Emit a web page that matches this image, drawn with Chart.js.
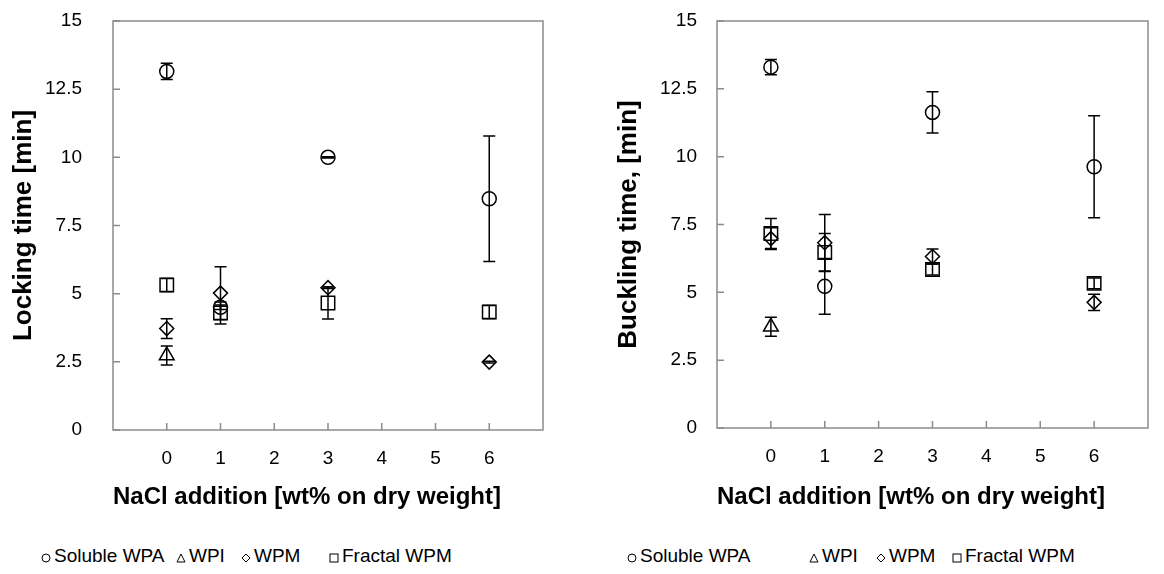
<!DOCTYPE html>
<html>
<head>
<meta charset="utf-8">
<title>Locking and buckling time vs NaCl addition</title>
<script src="https://cdn.jsdelivr.net/npm/chart.js@4.4.1/dist/chart.umd.min.js"></script>
<style>
  html, body { margin: 0; padding: 0; background: #fff; }
  body { width: 1164px; height: 574px; position: relative; overflow: hidden; font-family: Arial, "Liberation Sans", sans-serif; }
  .panel { position: absolute; top: 0; height: 520px; }
  #lockWrap { left: 0; width: 580px; }
  #buckWrap { left: 580px; width: 584px; }
  .legend-item { position: absolute; top: 545px; font-size: 19px; line-height: 22px; color: #000; white-space: nowrap; }
  .legend-item svg { vertical-align: -1px; margin-right: 3px; }
</style>
</head>
<body>
<div class="panel" id="lockWrap"><canvas id="lockChart" width="580" height="520"></canvas></div>
<div class="panel" id="buckWrap"><canvas id="buckChart" width="584" height="520"></canvas></div>
<div id="legends"></div>

<script>
// ========== Data ==========
const saltLevels = [0, 1, 3, 6];            // x positions of the measurements
const xTicks = [0, 1, 2, 3, 4, 5, 6];
const yTicks = [0, 2.5, 5, 7.5, 10, 12.5, 15];

const seriesNames = ['Soluble WPA', 'WPI', 'WPM', 'Fractal WPM'];

// Locking time [min]
const lockSoluble    = [13.15, 4.5, 10.0, 8.48];
const lockSolubleErr = [0.3, 0.08, 0.02, 2.3];
const lockWPI        = [2.73, null, null, null];
const lockWPIErr     = [0.35, 0, 0, 0];
const lockWPM        = [3.72, 5.02, 5.22, 2.49];
const lockWPMErr     = [0.36, 0.97, 0.03, 0.03];
const lockFractal    = [5.32, 4.29, 4.66, 4.33];
const lockFractalErr = [0.24, 0.4, 0.59, 0.24];

// Buckling time [min]
const buckSoluble    = [13.3, 5.22, 11.63, 9.63];
const buckSolubleErr = [0.28, 1.03, 0.76, 1.88];
const buckWPI        = [3.73, null, null, null];
const buckWPIErr     = [0.35, 0, 0, 0];
const buckWPM        = [6.98, 6.83, 6.32, 4.63];
const buckWPMErr     = [0.4, 1.04, 0.28, 0.3];
const buckFractal    = [7.17, 6.47, 5.84, 5.33];
const buckFractalErr = [0.55, 0.7, 0.2, 0.2];

// ========== Styling ==========
const FONT = 'Arial, "Liberation Sans", sans-serif';
const AXIS_GREY = '#8c8c8c';
const markers = [
  { style: 'circle',   radius: 7,
    svg: '<circle cx="5" cy="5" r="4" fill="none" stroke="#000" stroke-width="1"/>' },
  { style: 'triangle', radius: 8.5,
    svg: '<polygon points="5,1 9,9 1,9" fill="none" stroke="#000" stroke-width="1"/>' },
  { style: 'rectRot',  radius: 7,
    svg: '<polygon points="5,1 9,5 5,9 1,5" fill="none" stroke="#000" stroke-width="1"/>' },
  { style: 'rect',     radius: 9.5,
    svg: '<rect x="1" y="1" width="8" height="8" fill="none" stroke="#000" stroke-width="1"/>' }
];

// Plot box + inward tick marks like the original spreadsheet chart
const framePlugin = {
  id: 'frame',
  beforeDatasetsDraw(chart) {
    const { ctx, chartArea: a, scales: { x, y } } = chart;
    ctx.save();
    ctx.strokeStyle = AXIS_GREY;
    ctx.lineWidth = 1.5;
    ctx.strokeRect(a.left, a.top, a.right - a.left, a.bottom - a.top);
    ctx.beginPath();
    x.ticks.forEach(t => {
      const p = x.getPixelForValue(t.value);
      ctx.moveTo(p, a.bottom);
      ctx.lineTo(p, a.bottom - 7);
    });
    y.ticks.forEach(t => {
      const p = y.getPixelForValue(t.value);
      ctx.moveTo(a.left, p);
      ctx.lineTo(a.left + 7, p);
    });
    ctx.stroke();
    ctx.restore();
  }
};

// Vertical error bars with caps, read from dataset.errors
const errorBarPlugin = {
  id: 'errorBars',
  afterDatasetsDraw(chart) {
    const { ctx, scales: { x, y } } = chart;
    ctx.save();
    ctx.strokeStyle = '#000';
    ctx.lineWidth = 1.5;
    chart.data.datasets.forEach(ds => {
      ds.data.forEach((pt, i) => {
        const err = ds.errors[i];
        if (pt.y == null || !err) return;
        const px = x.getPixelForValue(pt.x);
        const top = y.getPixelForValue(pt.y + err);
        const bot = y.getPixelForValue(pt.y - err);
        ctx.beginPath();
        ctx.moveTo(px, top); ctx.lineTo(px, bot);
        ctx.moveTo(px - 6, top); ctx.lineTo(px + 6, top);
        ctx.moveTo(px - 6, bot); ctx.lineTo(px + 6, bot);
        ctx.stroke();
      });
    });
    ctx.restore();
  }
};

function makeDataset(name, idx, values, errors) {
  const m = markers[idx];
  return {
    label: name,
    data: saltLevels.map((x, i) => ({ x: x, y: values[i] })),
    errors: errors,
    showLine: false,
    pointStyle: m.style,
    pointRadius: m.radius,
    pointHoverRadius: m.radius,
    pointBorderWidth: 1.5,
    borderColor: '#000',
    backgroundColor: 'rgba(0,0,0,0)'
  };
}

function buildChart(canvasId, cfg) {
  const ctx = document.getElementById(canvasId);
  return new Chart(ctx, {
    type: 'scatter',
    data: { datasets: cfg.datasets },
    plugins: [framePlugin, errorBarPlugin],
    options: {
      responsive: false,
      devicePixelRatio: 1,
      animation: false,
      layout: { padding: { left: 0, top: 21, right: cfg.padRight, bottom: 0 } },
      plugins: {
        legend: { display: false },
        tooltip: { enabled: false }
      },
      scales: {
        x: {
          type: 'linear',
          min: -1,
          max: 7,
          afterBuildTicks: s => { s.ticks = xTicks.map(v => ({ value: v })); },
          afterFit: s => { s.height = cfg.xAxisHeight; },
          ticks: {
            callback: v => String(v),
            color: '#000',
            font: { family: FONT, size: 19 },
            padding: 17
          },
          grid: { display: false, drawTicks: false },
          border: { display: false },
          title: {
            display: true,
            text: 'NaCl addition [wt% on dry weight]',
            align: 'start',
            color: '#000',
            font: { family: FONT, size: 24, weight: 'bold' },
            padding: { top: 0, bottom: 8 }
          }
        },
        y: {
          min: 0,
          max: 15,
          afterBuildTicks: s => { s.ticks = yTicks.map(v => ({ value: v })); },
          afterFit: s => {
            s.width = cfg.yAxisWidth;
            // the tick padding only moves labels sideways here
            s.paddingTop = 11;
            s.paddingBottom = 11;
          },
          ticks: {
            callback: v => String(v),
            color: '#000',
            font: { family: FONT, size: 19 },
            padding: cfg.yTickPad
          },
          grid: { display: false, drawTicks: false },
          border: { display: false },
          title: {
            display: true,
            text: cfg.yTitle,
            color: '#000',
            font: { family: FONT, size: 26, weight: 'bold' },
            padding: { top: cfg.yTitlePad, bottom: 0 }
          }
        }
      }
    }
  });
}

buildChart('lockChart', {
  yTitle: 'Locking time [min]',
  padRight: 37,
  xAxisHeight: 90,
  yAxisWidth: 113,
  yTickPad: 31,
  yTitlePad: 8.4,
  datasets: [
    makeDataset(seriesNames[0], 0, lockSoluble, lockSolubleErr),
    makeDataset(seriesNames[1], 1, lockWPI, lockWPIErr),
    makeDataset(seriesNames[2], 2, lockWPM, lockWPMErr),
    makeDataset(seriesNames[3], 3, lockFractal, lockFractalErr)
  ]
});

buildChart('buckChart', {
  yTitle: 'Buckling time, [min]',
  padRight: 16,
  xAxisHeight: 92,
  yAxisWidth: 137,
  yTickPad: 20,
  yTitlePad: 33.4,
  datasets: [
    makeDataset(seriesNames[0], 0, buckSoluble, buckSolubleErr),
    makeDataset(seriesNames[1], 1, buckWPI, buckWPIErr),
    makeDataset(seriesNames[2], 2, buckWPM, buckWPMErr),
    makeDataset(seriesNames[3], 3, buckFractal, buckFractalErr)
  ]
});

// Legend rows under each panel (left edge of each entry, page coords)
const legendLefts = [
  [41, 176, 241, 329],
  [627, 809, 876, 952]
];
const legendHost = document.getElementById('legends');
legendLefts.forEach(row => {
  row.forEach((left, i) => {
    const item = document.createElement('div');
    item.className = 'legend-item';
    item.style.left = left + 'px';
    item.innerHTML = '<svg width="10" height="10" viewBox="0 0 10 10">' + markers[i].svg + '</svg>' + seriesNames[i];
    legendHost.appendChild(item);
  });
});
</script>
</body>
</html>
